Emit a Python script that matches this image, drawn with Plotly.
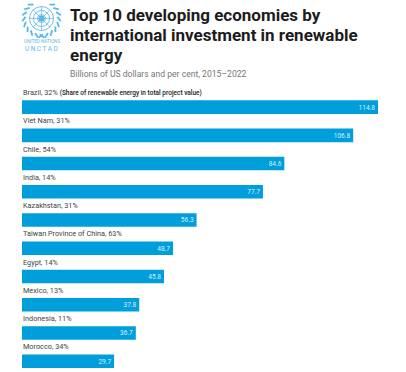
import math
import plotly.graph_objects as go

economies = ["Brazil", "Viet Nam", "Chile", "India", "Kazakhstan",
             "Taiwan Province of China", "Egypt", "Mexico", "Indonesia", "Morocco"]
investment = [114.8, 106.8, 84.6, 77.7, 56.3, 48.7, 45.8, 37.8, 36.7, 29.7]
shares = [32, 31, 54, 14, 31, 63, 14, 13, 11, 34]
title_lines = ["Top 10 developing economies by", "international investment in renewable", "energy"]
subtitle = "Billions of US dollars and per cent, 2015–2022"
share_note = "(Share of renewable energy in total project value)"

W, H = 406, 372
L, R, T, B = 22, 28, 92.6, 4
BLUE = "#009edb"
LOGO = "#5cb8e6"

def px(x): return (x - L) / (W - L - R)
def py(y): return 1 - (y - T) / (H - T - B)

fig = go.Figure(go.Bar(
    x=investment, y=economies, orientation="h",
    marker=dict(color=BLUE, line=dict(width=0)),
    width=0.48,
    text=[f"{v:.1f}" for v in investment], textposition="inside",
    insidetextanchor="end", textangle=0,
    textfont=dict(family="Roboto", size=9.5, color="#d9f0fa"),
    cliponaxis=False, hoverinfo="skip",
))

ann = []
for i, (e, s) in enumerate(zip(economies, shares)):
    t = f"{e}, {s}%"
    if i == 0:
        t += f' <span style="color:#222;font-size:6.5px;font-weight:500">{share_note}</span>'
    ann.append(dict(x=0, y=e, xref="x", yref="y", text=t, showarrow=False,
                    xanchor="left", yanchor="middle", yshift=14.5, xshift=-1.5,
                    font=dict(family="Roboto", size=7.3, color="#444"), align="left"))
for i, line in enumerate(title_lines):
    ann.append(dict(x=px(68), y=py(14 + i * 20.5), xref="paper", yref="paper", text=f"<b>{line}</b>",
                    showarrow=False, xanchor="left", yanchor="middle",
                    font=dict(family="Roboto", size=17, color="#1c1c1c")))
ann.append(dict(x=px(68), y=py(74), xref="paper", yref="paper", text=subtitle, showarrow=False,
                xanchor="left", yanchor="middle",
                font=dict(family="Roboto", size=8.6, color="#777")))
ann.append(dict(x=px(41.5), y=py(41.5), xref="paper", yref="paper", text="UNITED NATIONS", showarrow=False,
                xanchor="center", yanchor="middle",
                font=dict(family="Roboto", size=4.6, color=LOGO)))
ann.append(dict(x=px(41.5), y=py(49), xref="paper", yref="paper", text="U N C T A D", showarrow=False,
                xanchor="center", yanchor="middle",
                font=dict(family="Roboto", size=6.4, color=LOGO)))

shapes = []
cx, cy = 41.5, 18
def circle(r, width=0.9, fill=None):
    shapes.append(dict(type="circle", xref="paper", yref="paper",
                       x0=px(cx - r), x1=px(cx + r), y0=py(cy + r), y1=py(cy - r),
                       line=dict(color=LOGO, width=width), fillcolor=fill))
def seg(x0, y0, x1, y1, width=0.8):
    shapes.append(dict(type="line", xref="paper", yref="paper",
                       x0=px(x0), x1=px(x1), y0=py(y0), y1=py(y1),
                       line=dict(color=LOGO, width=width)))
for r in (4, 8, 12):
    circle(r)
for k in range(8):
    a = k * math.pi / 4
    seg(cx, cy, cx + 12 * math.cos(a), cy + 12 * math.sin(a), 0.7)
circle(3, 0, LOGO)
# laurel wreath
for side in (-1, 1):
    for deg in range(-60, 100, 18):
        a = math.radians(deg)
        xa = cx + side * 16 * math.cos(a)
        ya = cy + 16 * math.sin(a)
        xb = cx + side * 19.5 * math.cos(a + 0.25)
        yb = cy + 19.5 * math.sin(a + 0.25)
        seg(xa, ya, xb, yb, 1.8)

fig.update_layout(
    width=W, height=H, margin=dict(l=L, r=R, t=T, b=B, pad=0),
    paper_bgcolor="white", plot_bgcolor="white", showlegend=False,
    xaxis=dict(range=[0, 114.8], visible=False, fixedrange=True),
    yaxis=dict(type="category", categoryorder="array", categoryarray=economies,
               range=[9.24, -0.5], visible=False, fixedrange=True),
    annotations=ann, shapes=shapes,
)
fig.write_html("out.html", config={"displayModeBar": False},
               post_script="document.body.style.margin='0';document.body.style.overflow='hidden';")
